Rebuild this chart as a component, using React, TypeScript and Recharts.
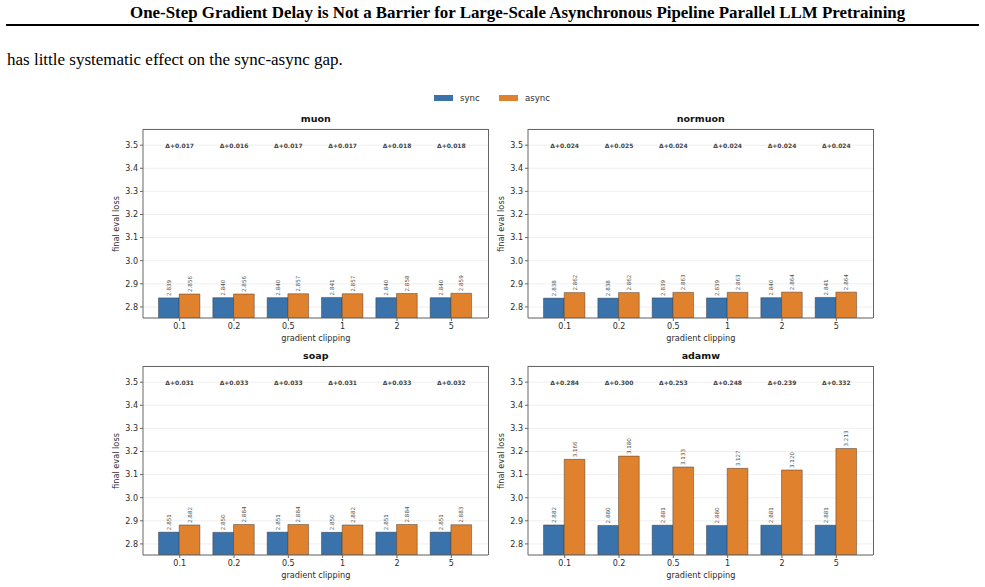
import React from 'react';
import { BarChart, Bar, XAxis, YAxis, CartesianGrid, LabelList, ReferenceDot } from 'recharts';

const CLIPS = ['0.1', '0.2', '0.5', '1', '2', '5'];

const MUON_SYNC = [2.839, 2.840, 2.840, 2.841, 2.840, 2.840];
const MUON_ASYNC = [2.856, 2.856, 2.857, 2.857, 2.858, 2.859];
const MUON_DELTA = ['+0.017', '+0.016', '+0.017', '+0.017', '+0.018', '+0.018'];

const NORMUON_SYNC = [2.838, 2.838, 2.839, 2.839, 2.840, 2.841];
const NORMUON_ASYNC = [2.862, 2.862, 2.863, 2.863, 2.864, 2.864];
const NORMUON_DELTA = ['+0.024', '+0.025', '+0.024', '+0.024', '+0.024', '+0.024'];

const SOAP_SYNC = [2.851, 2.850, 2.851, 2.850, 2.851, 2.851];
const SOAP_ASYNC = [2.882, 2.884, 2.884, 2.882, 2.884, 2.883];
const SOAP_DELTA = ['+0.031', '+0.033', '+0.033', '+0.031', '+0.033', '+0.032'];

const ADAMW_SYNC = [2.882, 2.880, 2.881, 2.880, 2.881, 2.881];
const ADAMW_ASYNC = [3.166, 3.180, 3.133, 3.127, 3.120, 3.213];
const ADAMW_DELTA = ['+0.284', '+0.300', '+0.253', '+0.248', '+0.239', '+0.332'];

const Y_TICKS = [2.8, 2.9, 3.0, 3.1, 3.2, 3.3, 3.4, 3.5];
const Y_DOMAIN = [2.752, 3.57];
const DELTA_Y = 3.5;

const SYNC_COLOR = '#3a73ab';
const ASYNC_COLOR = '#e0812e';
const EDGE = '#2a2a2a';
const SPINE = '#666666';
const TEXT = '#2b2b2b';
const FONT = '"DejaVu Sans", sans-serif';

const PLOT_W = 345;
const PLOT_H = 189;
const LEFT_W = 60;
const TOP_M = 20;
const RIGHT_M = 12;
const BOTTOM_H = 40;

type PanelProps = {
  title: string;
  sync: number[];
  asyncV: number[];
  deltas: string[];
  plotLeft: number;
  plotTop: number;
};

const ValueLabel = (props: any) => {
  const { x, y, width, value } = props;
  const cx = Number(x) + Number(width) / 2;
  const ty = Number(y) - 2;
  return (
    <text
      x={cx}
      y={ty}
      transform={`rotate(-90 ${cx} ${ty})`}
      textAnchor="start"
      dominantBaseline="central"
      fontSize={5.6}
      fontFamily={FONT}
      fill="#555"
    >
      {Number(value).toFixed(3)}
    </text>
  );
};

function Panel({ title, sync, asyncV, deltas, plotLeft, plotTop }: PanelProps) {
  const data = CLIPS.map((c, i) => ({ clip: c, sync: sync[i], async: asyncV[i] }));
  const W = LEFT_W + PLOT_W + RIGHT_M;
  const H = TOP_M + PLOT_H + BOTTOM_H;
  const left = plotLeft - LEFT_W;
  const top = plotTop - TOP_M;
  return (
    <>
      <div
        style={{
          position: 'absolute',
          left: plotLeft,
          top: plotTop - 16,
          width: PLOT_W,
          textAlign: 'center',
          fontFamily: FONT,
          fontWeight: 'bold',
          fontSize: 9.5,
          lineHeight: '12px',
          color: '#111',
        }}
      >
        {title}
      </div>
      <div
        style={{
          position: 'absolute',
          left: plotLeft - 27,
          top: plotTop + PLOT_H / 2 - 6,
          width: 0,
          height: 12,
        }}
      >
        <div
          style={{
            position: 'absolute',
            left: -50,
            top: 0,
            width: 100,
            textAlign: 'center',
            transform: 'rotate(-90deg)',
            fontFamily: FONT,
            fontSize: 8.2,
            lineHeight: '12px',
            color: TEXT,
            whiteSpace: 'nowrap',
          }}
        >
          final eval loss
        </div>
      </div>
      <div
        style={{
          position: 'absolute',
          left: plotLeft,
          top: plotTop + PLOT_H + 14,
          width: PLOT_W,
          textAlign: 'center',
          fontFamily: FONT,
          fontSize: 8.2,
          lineHeight: '12px',
          color: TEXT,
        }}
      >
        gradient clipping
      </div>
      <div style={{ position: 'absolute', left, top }}>
        <BarChart
          width={W}
          height={H}
          data={data}
          margin={{ top: TOP_M, right: RIGHT_M, left: 0, bottom: 0 }}
          barGap={0}
          barSize={20.7}
        >
          <CartesianGrid vertical={false} stroke="#ebebeb" strokeWidth={0.8} />
          <XAxis
            dataKey="clip"
            type="category"
            padding={{ left: 9.5, right: 9.5 }}
            height={BOTTOM_H}
            tickSize={3}
            tickLine={{ stroke: SPINE }}
            axisLine={{ stroke: SPINE }}
            tick={{ fontSize: 8, fill: TEXT, fontFamily: FONT }}
            tickMargin={2}
            interval={0}
          />
          <YAxis
            type="number"
            domain={Y_DOMAIN}
            ticks={Y_TICKS}
            allowDataOverflow
            width={LEFT_W}
            tickSize={3}
            tickLine={{ stroke: SPINE }}
            axisLine={{ stroke: SPINE }}
            tick={{ fontSize: 8, fill: TEXT, fontFamily: FONT }}
            tickMargin={2}
            tickFormatter={(v: number) => v.toFixed(1)}
            interval={0}
          />
          <Bar dataKey="sync" fill={SYNC_COLOR} stroke={EDGE} strokeWidth={0.6} strokeOpacity={0.7} isAnimationActive={false}>
            <LabelList dataKey="sync" content={ValueLabel} />
          </Bar>
          <Bar dataKey="async" fill={ASYNC_COLOR} stroke={EDGE} strokeWidth={0.6} strokeOpacity={0.7} isAnimationActive={false}>
            <LabelList dataKey="async" content={ValueLabel} />
          </Bar>
          {CLIPS.map((c, i) => (
            <ReferenceDot
              key={c}
              x={c}
              y={DELTA_Y}
              r={1}
              ifOverflow="visible"
              shape={(p: any) => (
                <text
                  x={p.cx}
                  y={p.cy}
                  textAnchor="middle"
                  dominantBaseline="central"
                  fontSize={6}
                  fontWeight="bold"
                  fontFamily={FONT}
                  fill="#444"
                >
                  {'Δ' + deltas[i]}
                </text>
              )}
            />
          ))}
        </BarChart>
      </div>
      <div
        style={{
          position: 'absolute',
          left: plotLeft,
          top: plotTop - 0.5,
          width: PLOT_W + 0.5,
          height: PLOT_H,
          borderTop: `1px solid ${SPINE}`,
          borderRight: `1px solid ${SPINE}`,
          boxSizing: 'border-box',
          pointerEvents: 'none',
        }}
      />
    </>
  );
}

export default function App() {
  return (
    <div
      style={{
        position: 'fixed',
        left: 0,
        top: 0,
        width: 985,
        height: 587,
        background: '#fff',
        overflow: 'hidden',
      }}
    >
      <div
        style={{
          position: 'absolute',
          left: 130,
          top: 3,
          fontFamily: '"Liberation Serif", serif',
          fontWeight: 'bold',
          fontSize: 16.9,
          lineHeight: '20px',
          color: '#000',
          whiteSpace: 'nowrap',
        }}
      >
        One-Step Gradient Delay is Not a Barrier for Large-Scale Asynchronous Pipeline Parallel LLM Pretraining
      </div>
      <div style={{ position: 'absolute', left: 6, top: 24, width: 973, height: 2, background: '#000' }} />
      <div
        style={{
          position: 'absolute',
          left: 7,
          top: 50,
          fontFamily: '"Liberation Serif", serif',
          fontSize: 17,
          lineHeight: '20px',
          color: '#000',
          whiteSpace: 'nowrap',
        }}
      >
        has little systematic effect on the sync-async gap.
      </div>
      <div style={{ position: 'absolute', left: 434, top: 95, width: 19, height: 6, background: SYNC_COLOR }} />
      <div style={{ position: 'absolute', left: 460, top: 92, fontFamily: FONT, fontSize: 8.6, lineHeight: '12px', color: TEXT }}>sync</div>
      <div style={{ position: 'absolute', left: 499, top: 95, width: 19, height: 6, background: ASYNC_COLOR }} />
      <div style={{ position: 'absolute', left: 525, top: 92, fontFamily: FONT, fontSize: 8.6, lineHeight: '12px', color: TEXT }}>async</div>

      <Panel title="muon" sync={MUON_SYNC} asyncV={MUON_ASYNC} deltas={MUON_DELTA} plotLeft={143.3} plotTop={129.3} />
      <Panel title="normuon" sync={NORMUON_SYNC} asyncV={NORMUON_ASYNC} deltas={NORMUON_DELTA} plotLeft={528.3} plotTop={129.3} />
      <Panel title="soap" sync={SOAP_SYNC} asyncV={SOAP_ASYNC} deltas={SOAP_DELTA} plotLeft={143.3} plotTop={366} />
      <Panel title="adamw" sync={ADAMW_SYNC} asyncV={ADAMW_ASYNC} deltas={ADAMW_DELTA} plotLeft={528.3} plotTop={366} />
    </div>
  );
}
